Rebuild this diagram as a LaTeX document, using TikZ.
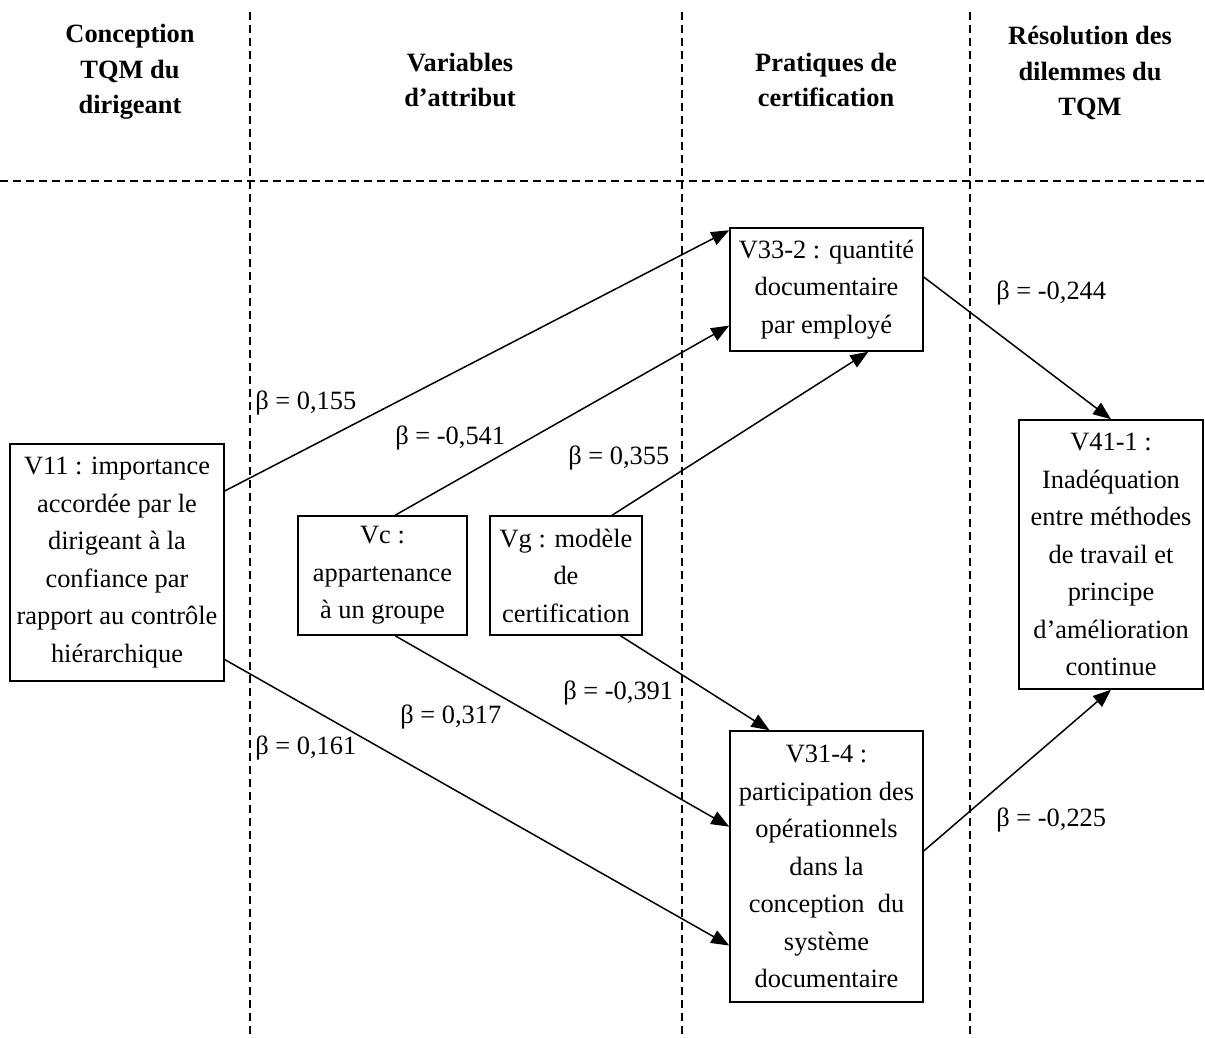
\documentclass[tikz,border=0pt]{standalone}
\usepackage{fontspec}
\setmainfont{Liberation Serif}
\usetikzlibrary{arrows.meta,calc}
\begin{document}
\begin{tikzpicture}[x=0.5pt,y=-0.5pt,
  every node/.style={font=\fontsize{13.2}{18.75}\selectfont},
  box/.style={draw, line width=0.75pt, align=center, inner sep=0pt},
  sep/.style={line width=0.75pt, dash pattern=on 4pt off 2.5pt},
  link/.style={line width=0.75pt, -{Triangle[length=9pt,width=7pt]}},
  lbl/.style={anchor=west, inner sep=0pt},
  head/.style={align=center, inner sep=0pt, font=\fontsize{13.2}{17.8}\selectfont\bfseries}]
\useasboundingbox (0,0) rectangle (1205,1038);

% separators
\coordinate (s1t) at (250,12);  \coordinate (s1b) at (250,1038);
\coordinate (s2t) at (682,12);  \coordinate (s2b) at (682,1038);
\coordinate (s3t) at (970,12);  \coordinate (s3b) at (970,1038);
\coordinate (hl) at (0,181);    \coordinate (hr) at (1205,181);
\draw[sep] (s1t) -- (s1b);
\draw[sep] (s2t) -- (s2b);
\draw[sep] (s3t) -- (s3b);
\draw[sep] (hl) -- (hr);

% headers
\node[head] (h1) at (130,72) {Conception\\TQM du\\dirigeant};
\node[head] (h2) at (460,80) {Variables\\d’attribut};
\node[head] (h3) at (826,80) {Pratiques de\\certification};
\node[head] (h4) at (1090,73) {Résolution des\\dilemmes du\\TQM};

% boxes
\node[box, minimum width=107pt, minimum height=118.5pt] (v11) at (117,562.5)
  {V11 : importance\\accordée par le\\dirigeant à la\\confiance par\\rapport au contrôle\\hiérarchique};
\node[box, minimum width=84.5pt, minimum height=59.5pt] (vc) at (382.5,575.5)
  {Vc :\\appartenance\\à un groupe};
\node[box, minimum width=76pt, minimum height=59.5pt] (vg) at (566,575.5)
  {Vg : modèle\\de\\certification};
\node[box, minimum width=96.5pt, minimum height=61.5pt] (v33) at (826.5,289.5)
  {V33-2 : quantité\\documentaire\\par employé};
\node[box, minimum width=96.5pt, minimum height=135.5pt] (v31) at (826.5,866.5)
  {V31-4 :\\participation des\\opérationnels\\dans la\\conception~~du\\système\\documentaire};
\node[box, minimum width=92pt, minimum height=134.5pt] (v41) at (1111,554.5)
  {V41-1 :\\Inadéquation\\entre méthodes\\de travail et\\principe\\d’amélioration\\continue};

% connectors
\draw[link] ($(v11.north east)!0.2!(v11.south east)$) -- ($(v33.north west)+(0,3)$);
\draw[link] ($(vc.north west)!0.574!(vc.north east)$) -- ($(v33.north west)!0.79!(v33.south west)$);
\draw[link] ($(vg.north west)!0.8!(vg.north east)$) -- ($(v33.south west)!0.715!(v33.south east)$);
\draw[link] ($(v33.north east)!0.4!(v33.south east)$) -- (v41.north);
\draw[link] ($(vg.south west)!0.855!(vg.south east)$) -- ($(v31.north west)!0.207!(v31.north east)$);
\draw[link] ($(vc.south west)!0.574!(vc.south east)$) -- ($(v31.north west)!0.354!(v31.south west)$);
\draw[link] ($(v11.north east)!0.907!(v11.south east)$) -- ($(v31.north west)!0.79!(v31.south west)$);
\draw[link] ($(v31.north east)!0.443!(v31.south east)$) -- (v41.south);

% labels
\node[lbl] (b1) at (255,403) {β = 0,155};
\node[lbl] (b2) at (395,438) {β = -0,541};
\node[lbl] (b3) at (568,458) {β = 0,355};
\node[lbl] (b4) at (996,293) {β = -0,244};
\node[lbl] (b5) at (563,693) {β = -0,391};
\node[lbl] (b6) at (400,717) {β = 0,317};
\node[lbl] (b7) at (255,748) {β = 0,161};
\node[lbl] (b8) at (996,820) {β = -0,225};
\end{tikzpicture}
\end{document}
